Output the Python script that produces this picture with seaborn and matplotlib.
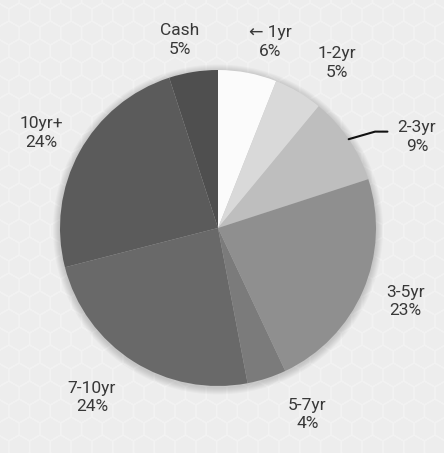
import numpy as np
import matplotlib
matplotlib.use('Agg')
import matplotlib.pyplot as plt
import seaborn as sns
from matplotlib.patches import RegularPolygon, Circle

# maturity buckets, clockwise from 12 o'clock
buckets = ['\u2190 1yr', '1-2yr', '2-3yr', '3-5yr', '5-7yr', '7-10yr', '10yr+', 'Cash']
shares = [6, 5, 9, 23, 4, 24, 24, 5]
shades = ['#fbfbfb', '#d9d9d9', '#bebebe', '#8f8f8f', '#7b7b7b', '#696969', '#5b5b5b', '#4f4f4f']

# label nudges in pixels (x right, y down) from the default label spot
nudges = {'\u2190 1yr': (14, 16), '1-2yr': (14, 12), '3-5yr': (-1, -8),
          '5-7yr': (26, -9), '7-10yr': (-16, -4), '10yr+': (3, 4), 'Cash': (-6, 15)}

sns.set_theme(style='white')
plt.rcParams['font.family'] = ['Roboto', 'DejaVu Sans']

W, H = 444, 453
cx, cy, R = 218, H - 228, 158
bg = '#ededed'

fig = plt.figure(figsize=(W / 100, H / 100), dpi=100, facecolor=bg)
ax = fig.add_axes([0, 0, 1, 1])
ax.set_facecolor(bg)

# faint hexagon texture in the background
hr = 12
for j, yy in enumerate(np.arange(-hr, H + 2 * hr, 1.5 * hr)):
    off = (np.sqrt(3) * hr / 2) if j % 2 else 0
    for xx in np.arange(-hr, W + 2 * hr, np.sqrt(3) * hr):
        ax.add_patch(RegularPolygon((xx + off, yy), 6, radius=hr, facecolor='none',
                                    edgecolor='#f2f2f2', lw=1.1, zorder=0))

# soft shadow round the pie
for i in range(1, 8):
    ax.add_patch(Circle((cx, cy - 1.5), R + i, color='black', alpha=0.025, lw=0, zorder=0.5))

wedges, _ = ax.pie(shares, colors=shades, startangle=90, counterclock=False,
                   center=(cx, cy), radius=R, wedgeprops=dict(linewidth=0))

style = dict(ha='center', va='center', fontsize=12.5, fontweight='normal',
             color='#383838', linespacing=1.3)

for w, name, pct in zip(wedges, buckets, shares):
    mid = np.deg2rad((w.theta1 + w.theta2) / 2)
    txt = f'{name}\n{pct}%'
    if name == '2-3yr':
        ex, ey = cx + R * np.cos(mid), cy + R * np.sin(mid)
        ax.annotate(txt, xy=(ex, ey), xytext=(417, H - 137), **style,
                    arrowprops=dict(arrowstyle='-', color='#111111', lw=1.5,
                                    connectionstyle='angle,angleA=0,angleB=16,rad=0',
                                    relpos=(0, 0.66), shrinkA=5, shrinkB=0))
        continue
    dx, dy = nudges[name]
    lx = cx + 1.3 * R * np.cos(mid) + dx
    ly = cy + 1.3 * R * np.sin(mid) - dy
    ax.text(lx, ly, txt, **style)

ax.set_xlim(0, W)
ax.set_ylim(0, H)
ax.set_aspect('auto')
ax.axis('off')

fig.savefig('out.png', dpi=100, facecolor=fig.get_facecolor())
